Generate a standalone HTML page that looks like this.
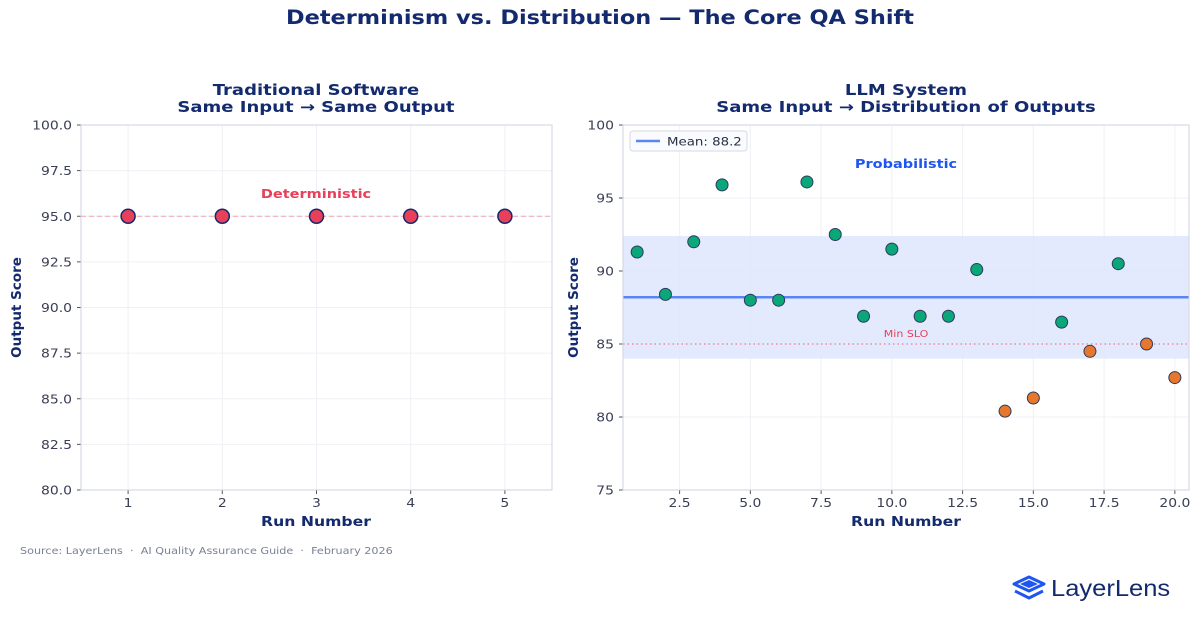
<!DOCTYPE html>
<html><head><meta charset="utf-8"><style>
body{margin:0;background:#fff;}
svg{display:block;font-family:"DejaVu Sans","Liberation Sans",sans-serif;}
</style></head><body>
<svg id="c" width="1200" height="630" viewBox="0 0 1200 630" xmlns="http://www.w3.org/2000/svg">
<text x="600" y="24" text-anchor="middle" font-size="19.5" font-weight="bold" fill="#142a6e" data-k="1.15">Determinism vs. Distribution — The Core QA Shift</text>
<text x="316" y="95" text-anchor="middle" font-size="15" font-weight="bold" fill="#142a6e" data-k="1.2">Traditional Software</text>
<text x="316" y="112" text-anchor="middle" font-size="15" font-weight="bold" fill="#142a6e" data-k="1.2">Same Input → Same Output</text>
<text x="906" y="95" text-anchor="middle" font-size="15" font-weight="bold" fill="#142a6e" data-k="1.2">LLM System</text>
<text x="906" y="112" text-anchor="middle" font-size="15" font-weight="bold" fill="#142a6e" data-k="1.2">Same Input → Distribution of Outputs</text>
<g id="L"></g><g id="R"></g>
<text x="20" y="554" font-size="10" fill="#7a8096" data-k="1.12" xml:space="preserve">Source: LayerLens  ·  AI Quality Assurance Guide  ·  February 2026</text>
<g>
<path d="M1014 584 L1029 577 L1044 584 L1029 591 Z" fill="none" stroke="#1f56f0" stroke-width="3" stroke-linejoin="round"/>
<path d="M1020 584 L1029 580 L1038 584 L1029 588 Z" fill="#1f56f0"/>
<path d="M1015 591 L1029 598 L1043 591" fill="none" stroke="#1f56f0" stroke-width="3" stroke-linejoin="round"/>
<text x="1051" y="596" font-family="Liberation Sans,sans-serif" font-size="23" fill="#142a6e" data-k="1.11">LayerLens</text>
</g>
</svg>
<script>
const leftRuns=[1,2,3,4,5];
const leftScores=[95,95,95,95,95];
const leftYTicks=[80,82.5,85,87.5,90,92.5,95,97.5,100];
const rightRuns=[1,2,3,4,5,6,7,8,9,10,11,12,13,14,15,16,17,18,19,20];
const rightScores=[91.3,88.4,92.0,95.9,88.0,88.0,96.1,92.5,86.9,91.5,86.9,86.9,90.1,80.4,81.3,86.5,84.5,90.5,85.0,82.7];
const rightXTicks=[2.5,5,7.5,10,12.5,15,17.5,20];
const rightYTicks=[75,80,85,90,95,100];
const meanValue=88.2, bandLow=84, bandHigh=92.4, minSLO=85;
const NS="http://www.w3.org/2000/svg";
function mk(p,t,a){const e=document.createElementNS(NS,t);for(const k in a)e.setAttribute(k,a[k]);p.appendChild(e);return e;}
function axes(g,x0,x1,y0,y1,xmin,xmax,ymin,ymax,xt,yt,xfmt,yfmt){
  const sx=v=>x0+(v-xmin)/(xmax-xmin)*(x1-x0), sy=v=>y1-(v-ymin)/(ymax-ymin)*(y1-y0);
  xt.forEach(v=>{const l=mk(g,'line',{x1:sx(v),x2:sx(v),y1:y0,y2:y1,stroke:'#eef0f5','stroke-width':1});
    
    mk(g,'line',{x1:sx(v),x2:sx(v),y1:y1,y2:y1+4,stroke:'#555'});
    const t=mk(g,'text',{x:sx(v),y:y1+17,'text-anchor':'middle','font-size':12,fill:'#3a3f55'});t.textContent=xfmt(v);
    });
  yt.forEach(v=>{const l=mk(g,'line',{x1:x0,x2:x1,y1:sy(v),y2:sy(v),stroke:'#eef0f5','stroke-width':1});
    
    mk(g,'line',{x1:x0-4,x2:x0,y1:sy(v),y2:sy(v),stroke:'#555'});
    const t=mk(g,'text',{x:x0-9,y:sy(v)+4.5,'text-anchor':'end','font-size':12,fill:'#3a3f55'});t.textContent=yfmt(v);
    });
  return {sx,sy};
}
function frame(g,x0,x1,y0,y1,cx,ylx){
  const r=mk(g,'rect',{x:x0,y:y0,width:x1-x0,height:y1-y0,fill:'none',stroke:'#cfd3e3'});
  
  const xl=mk(g,'text',{x:cx,y:y1+36,'text-anchor':'middle','font-size':13.5,'font-weight':'bold',fill:'#142a6e'});xl.textContent='Run Number';
  
  const yy=(y0+y1)/2, yl=mk(g,'text',{x:0,y:0,transform:`translate(${ylx},${yy}) rotate(-90)`,'text-anchor':'middle','font-size':13.5,'font-weight':'bold',fill:'#142a6e','data-k':'1'});
  yl.textContent='Output Score';
}
(function(){
  const g=document.getElementById('L');
  const x0=81,x1=552,y0=125,y1=490;
  const {sx,sy}=axes(g,x0,x1,y0,y1,0.5,5.5,80,100,leftRuns,leftYTicks,v=>String(v),v=>v.toFixed(1));
  const d=mk(g,'line',{x1:x0,x2:x1,y1:sy(95),y2:sy(95),stroke:'#f4a3b3','stroke-dasharray':'5,3','stroke-width':1});
  
  const t=mk(g,'text',{x:316,y:198,'text-anchor':'middle','font-size':12.5,'font-weight':'bold',fill:'#e8405a'});t.textContent='Deterministic';
  
  leftRuns.forEach((r,i)=>{const c=mk(g,'circle',{cx:sx(r),cy:sy(leftScores[i]),r:7,fill:'#e8405a',stroke:'#142a6e','stroke-width':1.5});
    });
  frame(g,x0,x1,y0,y1,316,21);
})();
(function(){
  const g=document.getElementById('R');
  const x0=623,x1=1189,y0=125,y1=490;
  const {sx,sy}=axes(g,x0,x1,y0,y1,0.5,20.5,75,100,rightXTicks,rightYTicks,v=>v.toFixed(1),v=>String(v));
  const b=mk(g,'rect',{x:x0,y:sy(bandHigh),width:x1-x0,height:sy(bandLow)-sy(bandHigh),fill:'#dfe6fd',opacity:0.85});
  
  const m=mk(g,'line',{x1:x0,x2:x1,y1:sy(meanValue),y2:sy(meanValue),stroke:'#5b84f5','stroke-width':2.5});
  
  const s=mk(g,'line',{x1:x0,x2:x1,y1:sy(minSLO),y2:sy(minSLO),stroke:'#f27b8c','stroke-dasharray':'1.5,3','stroke-width':1.3});
  
  const st=mk(g,'text',{x:906,y:337,'text-anchor':'middle','font-size':9.5,fill:'#e8405a'});st.textContent='Min SLO';
  
  const pt=mk(g,'text',{x:906,y:168,'text-anchor':'middle','font-size':12.5,'font-weight':'bold',fill:'#1f56f0'});pt.textContent='Probabilistic';
  
  rightRuns.forEach((r,i)=>{const v=rightScores[i];const c=mk(g,'circle',{cx:sx(r),cy:sy(v),r:6,fill:v<=minSLO?'#e8772e':'#0aa878',stroke:'#2d3a5e','stroke-width':1});
    });
  const lg=mk(g,'g',{});
  mk(lg,'rect',{x:630,y:131,width:117,height:20,rx:3,fill:'#fafbfe',stroke:'#d5d9e6'});
  mk(lg,'line',{x1:636,x2:660,y1:141,y2:141,stroke:'#5b84f5','stroke-width':2.5});
  const lt=mk(lg,'text',{x:667,y:145.5,'font-size':11.5,fill:'#2a2f45'});lt.textContent='Mean: 88.2';
  
  frame(g,x0,x1,y0,y1,906,578);
})();
document.querySelectorAll('text').forEach(t=>{
  const k=parseFloat(t.getAttribute('data-k')||'1.16');
  if(k===1)return;
  const w=t.getComputedTextLength();
  t.setAttribute('textLength',(w*k).toFixed(1));
  t.setAttribute('lengthAdjust','spacingAndGlyphs');
});
</script>
</body></html>
